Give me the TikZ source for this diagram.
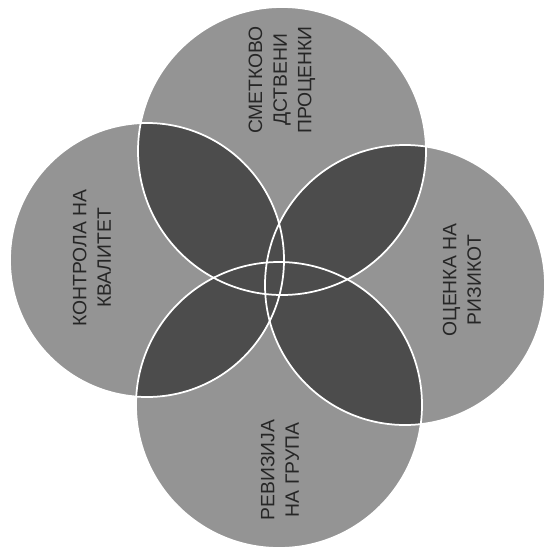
\documentclass[tikz,border=0pt]{standalone}
\usepackage{fontspec}
\setmainfont{Liberation Sans}
\usetikzlibrary{positioning}

\definecolor{svetlo}{gray}{0.58}
\definecolor{temno}{gray}{0.30}

\tikzset{
  krug/.style={fill=svetlo},
  rab/.style={draw=white, line width=0.35mm},
  natpis/.style={rotate=90, align=center, text=black!85,
    font=\fontsize{11}{14}\selectfont},
}

\begin{document}
\begin{tikzpicture}[x=0.2mm, y=-0.2mm]

    % =================================================================
    % 1. CENTRI NA KRUGOVITE (koordinati vo pikseli, y nadolu)
    % =================================================================
    \useasboundingbox (0,0) rectangle (547,549);
    \coordinate (gore)  at (282,151);
    \coordinate (levo)  at (147,260);
    \coordinate (desno) at (405,285);
    \coordinate (dolu)  at (279,405);

    % --- Svetla podloga na sekoj krug ---
    \foreach \c/\r in {gore/144, levo/137, desno/140, dolu/143}
        \fill[krug] (\c) circle[radius=\r];

    % --- Temni preseci na parovite krugovi ---
    \foreach \a/\ra/\b/\rb in {gore/144/levo/137, gore/144/desno/140,
                               levo/137/dolu/143, desno/140/dolu/143,
                               gore/144/dolu/143, levo/137/desno/140}{
        \begin{scope}
            \clip (\a) circle[radius=\ra];
            \fill[temno] (\b) circle[radius=\rb];
        \end{scope}
    }

    % --- Beli rabovi ---
    \foreach \c/\r in {gore/144, levo/137, desno/140, dolu/143}
        \draw[rab] (\c) circle[radius=\r];

    % =================================================================
    % 2. NATPISI
    % =================================================================
    \node[natpis] (smetka)   at (282,80)  {СМЕТКОВО\\ДСТВЕНИ\\ПРОЦЕНКИ};
    \node[natpis] (kontrola) at (92,258)  {КОНТРОЛА НА\\КВАЛИТЕТ};
    \node[natpis] (rizik)    at (462,280) {ОЦЕНКА НА\\РИЗИКОТ};
    \node[natpis] (grupa)    at (280,470) {РЕВИЗИЈА\\НА ГРУПА};

\end{tikzpicture}
\end{document}
